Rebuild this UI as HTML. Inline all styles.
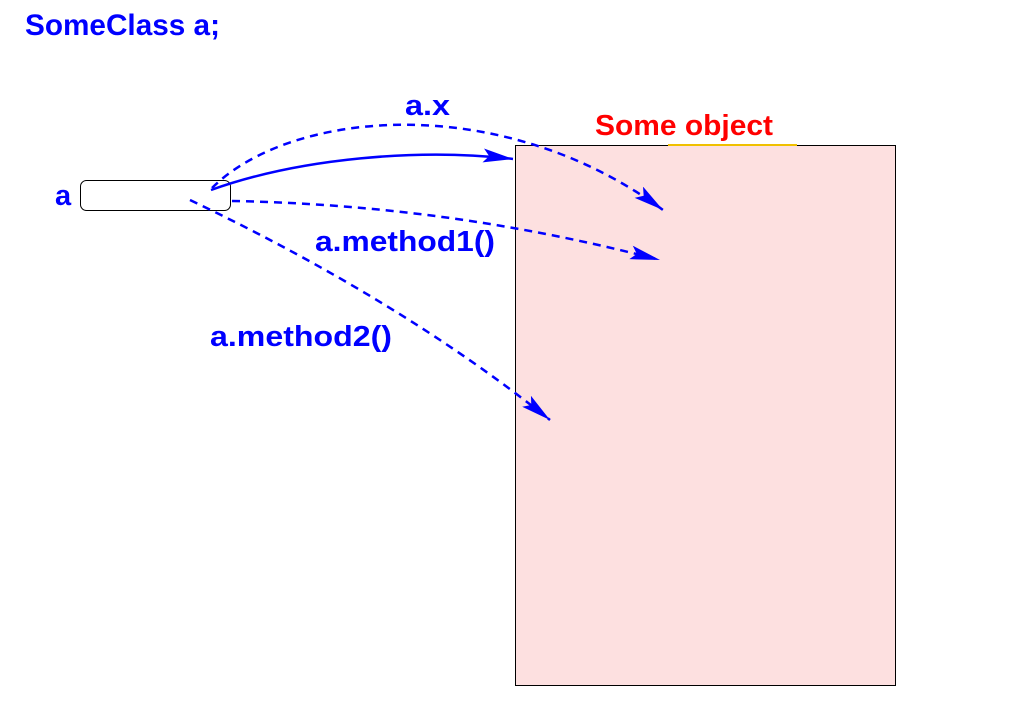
<!DOCTYPE html>
<html><head><meta charset="utf-8"><style>html,body{margin:0;padding:0;background:#fff}svg{display:block}</style></head>
<body>
<svg width="1020" height="721" viewBox="0 0 1020 721" xmlns="http://www.w3.org/2000/svg" font-family="Liberation Sans, sans-serif" font-weight="bold">
<defs>
<marker id="ar" markerWidth="30" markerHeight="14" refX="30" refY="7" orient="auto" markerUnits="userSpaceOnUse">
<path d="M0,0 L30,7 L0,14 L6,7 Z" fill="#0000ff"/>
</marker>
</defs>
<rect x="515.5" y="145.5" width="380" height="540" fill="#fde0e0" stroke="#000" stroke-width="1"/>
<line x1="668" y1="145" x2="797" y2="145" stroke="#f0c000" stroke-width="2"/>
<rect x="80.5" y="180.5" width="150" height="30" rx="6" fill="none" stroke="#000" stroke-width="1"/>
<g fill="none" stroke="#0000ff" stroke-width="2.5">
<path d="M211,190 C300,158 420,148 513,159" marker-end="url(#ar)"/>
<path d="M212,188 C290,110 500,90 663,210" stroke-dasharray="8,6" marker-end="url(#ar)"/>
<path d="M232,201 Q450,205 660,260" stroke-dasharray="8,6" marker-end="url(#ar)"/>
<path d="M190,200 Q400,300 550,420" stroke-dasharray="8,6" marker-end="url(#ar)"/>
</g>
<g fill="#0000ff">
<text x="25" y="35" font-size="30" textLength="195" lengthAdjust="spacingAndGlyphs">SomeClass a;</text>
<text x="405" y="115" font-size="29" textLength="45" lengthAdjust="spacingAndGlyphs">a.x</text>
<text x="55" y="205" font-size="29">a</text>
<text x="315" y="251" font-size="29" textLength="180" lengthAdjust="spacingAndGlyphs">a.method1()</text>
<text x="210" y="346" font-size="29" textLength="182" lengthAdjust="spacingAndGlyphs">a.method2()</text>
</g>
<text x="595" y="135" font-size="29" fill="#ff0000" textLength="178" lengthAdjust="spacingAndGlyphs">Some object</text>
</svg>
</body></html>
